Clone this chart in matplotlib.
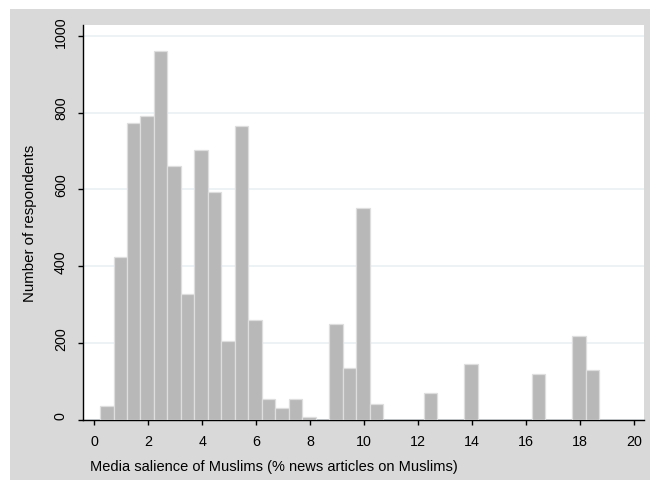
import matplotlib.pyplot as plt
from matplotlib.patches import Rectangle
from matplotlib.transforms import ScaledTranslation

# histogram bins (left edge, width 0.5) and respondent counts
bin_left = [0.21, 0.71, 1.21, 1.71, 2.21, 2.71, 3.21, 3.71, 4.21, 4.71,
            5.21, 5.71, 6.21, 6.71, 7.21, 7.71, 8.71, 9.21, 9.71, 10.21,
            12.21, 13.71, 16.21, 17.71, 18.21]
counts = [36, 425, 772, 791, 961, 660, 327, 702, 593, 206,
          765, 259, 54, 30, 54, 9, 249, 135, 551, 41,
          70, 147, 121, 219, 130]
bin_width = 0.5

x_ticks = list(range(0, 21, 2))
y_ticks = [0, 200, 400, 600, 800, 1000]

plt.rcParams['font.family'] = ['Liberation Sans', 'DejaVu Sans']

fig = plt.figure(figsize=(6.5, 4.81), dpi=100)
fig.patch.set_facecolor('white')
# stata-style gray graph region
fig.add_artist(Rectangle((10 / 650, 0), 1, 471 / 481, transform=fig.transFigure,
                         facecolor='#d9d9d9', edgecolor='none', zorder=-10))

ax = fig.add_axes([83.3 / 650, 60 / 481, 560.2 / 650, 395 / 481])
ax.set_facecolor('white')
ax.set_zorder(1)

ax.bar(bin_left, counts, width=bin_width, align='edge',
       color='#b8b8b8', edgecolor='#dedede', linewidth=0.9, zorder=3)

ax.set_xlim(-0.41, 20.36)
ax.set_ylim(0, 1028)
ax.set_xticks(x_ticks)
ax.set_yticks(y_ticks)
ax.set_yticklabels([str(v) for v in y_ticks], rotation=90, va='center')

ax.grid(axis='y', color='#eaf0f2', linewidth=1.2, zorder=0)
ax.set_axisbelow(True)

for s in ['top', 'right']:
    ax.spines[s].set_visible(False)
for s in ['left', 'bottom']:
    ax.spines[s].set_color('black')
    ax.spines[s].set_linewidth(1.0)

ax.tick_params(axis='both', direction='out', length=3.6, width=1.0,
               colors='black', labelsize=10.3)
ax.tick_params(axis='x', pad=6.5)
ax.tick_params(axis='y', pad=7.5)

# rotated y labels sit a little above their ticks
shift = ScaledTranslation(0, 5 / 100, fig.dpi_scale_trans)
for lab in ax.get_yticklabels():
    lab.set_transform(lab.get_transform() + shift)

ax.set_xlabel('Media salience of Muslims (% news articles on Muslims)',
              fontsize=10.5, loc='left')
ax.set_ylabel('Number of respondents', fontsize=10.8)
ax.xaxis.set_label_coords(7 / 560.2, -39 / 395)
ax.yaxis.set_label_coords(-46 / 560.2, 0.5)

fig.savefig('out.png', dpi=100)
